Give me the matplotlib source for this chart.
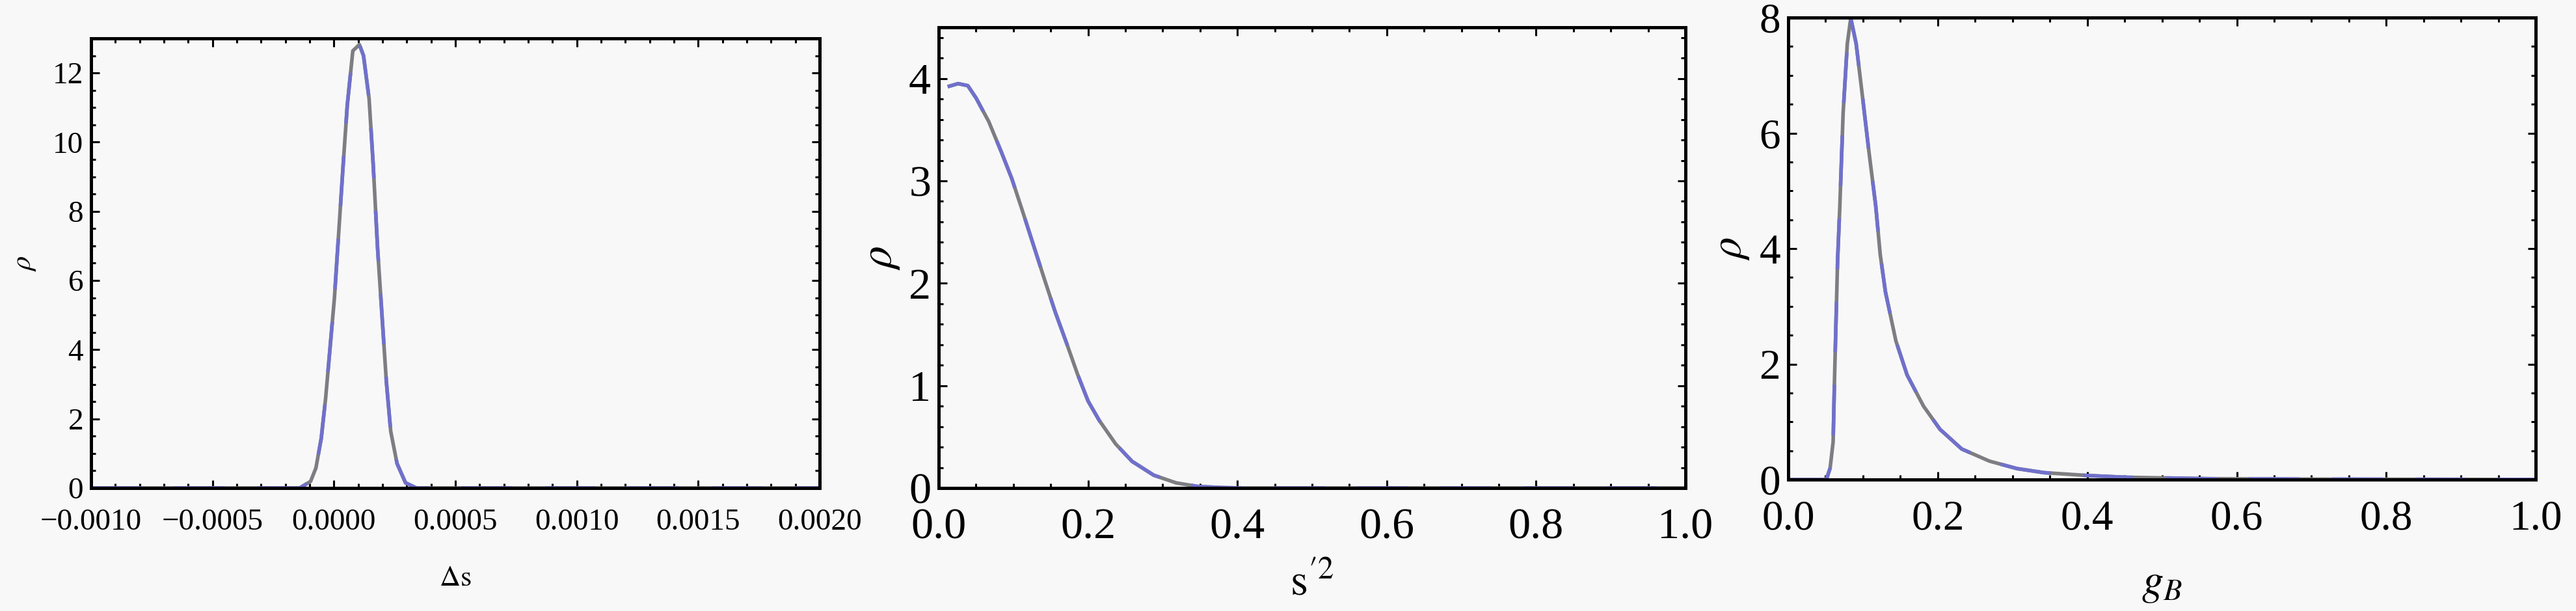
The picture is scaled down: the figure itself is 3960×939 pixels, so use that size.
"""Three density panels: rho vs delta s, s'^2 and g_B"""
import matplotlib
matplotlib.use('Agg')
import matplotlib.pyplot as plt
from matplotlib.ticker import MultipleLocator, FuncFormatter

plt.rcParams['font.family'] = ['Liberation Serif', 'DejaVu Serif']
plt.rcParams['mathtext.fontset'] = 'stix'

# Panel 1: rho vs delta s
ds_x = [-0.0010, -0.000141, -0.000096, -0.000074, -0.000052, -0.000034, -0.000016,
        0.000002, 0.000020, 0.000038, 0.000055, 0.000078, 0.000105, 0.000122,
        0.000145, 0.000162, 0.000180, 0.000198, 0.000216, 0.000234, 0.000260,
        0.000295, 0.000340, 0.0020]
ds_rho = [0, 0, 0.19, 0.58, 1.44, 2.60, 4.04, 5.48, 7.40, 9.33, 11.06, 12.64, 12.82,
          12.50, 11.25, 9.33, 6.92, 5.00, 3.08, 1.64, 0.71, 0.15, 0, 0]

# Panel 2: rho vs s'^2
s2_x = [0.012, 0.026, 0.039, 0.050, 0.067, 0.084, 0.098, 0.112, 0.127, 0.142, 0.156,
        0.171, 0.186, 0.200, 0.215, 0.237, 0.259, 0.288, 0.318, 0.347, 0.380, 0.406, 1.0]
s2_rho = [3.92, 3.95, 3.93, 3.81, 3.58, 3.28, 3.02, 2.71, 2.37, 2.03, 1.72, 1.42, 1.11,
          0.85, 0.66, 0.43, 0.26, 0.125, 0.05, 0.015, 0.004, 0, 0]

# Panel 3: rho vs g_B
gb_x = [0.0, 0.051, 0.056, 0.060, 0.062, 0.066, 0.069, 0.0734, 0.079, 0.0836, 0.0908,
        0.0995, 0.108, 0.117, 0.123, 0.130, 0.144, 0.159, 0.181, 0.203, 0.232, 0.269,
        0.306, 0.342, 0.401, 0.452, 0.562, 0.709, 1.0]
gb_rho = [0, 0, 0.2, 0.65, 1.8, 3.8, 4.74, 6.35, 7.55, 7.99, 7.55, 6.61, 5.67, 4.74,
          3.9, 3.25, 2.4, 1.81, 1.27, 0.87, 0.53, 0.32, 0.19, 0.12, 0.07, 0.04, 0.015,
          0.007, 0.002]

BG = '#f8f8f8'
GRAY = '#7d7d82'
BLUE = '#7070cc'


def minus(s):
    return s.replace('-', '\u2212')


def setup_axes(ax, xlim, ylim, xmaj, xmin, ymaj, ymin, xfmt, yfmt, fs, xpad,
               xlabel, ylabel, label_fs, xlab_y, ylab_x):
    ax.set_facecolor(BG)
    ax.set_xlim(*xlim)
    ax.set_ylim(*ylim)
    ax.xaxis.set_major_locator(MultipleLocator(xmaj))
    ax.xaxis.set_minor_locator(MultipleLocator(xmin))
    ax.yaxis.set_major_locator(MultipleLocator(ymaj))
    ax.yaxis.set_minor_locator(MultipleLocator(ymin))
    ax.xaxis.set_major_formatter(FuncFormatter(xfmt))
    ax.yaxis.set_major_formatter(FuncFormatter(yfmt))
    ax.tick_params(which='both', direction='in', top=True, right=True, width=2.2,
                   color='black')
    ax.tick_params(which='major', length=9)
    ax.tick_params(which='minor', length=5)
    ax.tick_params(axis='x', which='major', labelsize=fs, pad=xpad)
    ax.tick_params(axis='y', which='major', labelsize=fs, pad=8.5)
    for sp in ax.spines.values():
        sp.set_linewidth(3.6)
    ax.set_xlabel(xlabel, fontsize=label_fs)
    ax.set_ylabel(ylabel, fontsize=label_fs)
    ax.xaxis.label.set_va('center')
    ax.yaxis.label.set_va('center')
    ax.xaxis.set_label_coords(0.5, xlab_y)
    ax.yaxis.set_label_coords(ylab_x, 0.5)


def draw_curve(ax, x, y):
    # two overlaid curves, gray below and blue dashed on top
    ax.plot(x, y, color=GRAY, lw=4, solid_capstyle='butt')
    ax.plot(x, y, color=BLUE, lw=4, dashes=(14, 9))


fig = plt.figure(figsize=(39.6, 9.39), dpi=100, facecolor=BG)

ax1 = fig.add_axes([0.03535, 0.2013, 0.2828, 0.7359])
ax2 = fig.add_axes([0.3644, 0.2013, 0.2899, 0.7540])
ax3 = fig.add_axes([0.6942, 0.2151, 0.2902, 0.7561])

draw_curve(ax1, ds_x, ds_rho)
draw_curve(ax2, s2_x, s2_rho)
draw_curve(ax3, gb_x, gb_rho)

int_fmt = lambda v, p: f'{v:.0f}'
one_dec = lambda v, p: f'{v:.1f}'
four_dec = lambda v, p: minus(f'{v:.4f}') if abs(v) > 1e-9 else '0.0000'

setup_axes(ax1, (-0.001, 0.002), (0, 13), 0.0005, 0.0001, 2, 0.5, four_dec, int_fmt,
           34, 23, r'$\Delta\mathrm{s}$', r'$\rho$', 32, -0.201, -0.091)
setup_axes(ax2, (0, 1), (0, 4.5), 0.2, 0.05, 1, 0.2, one_dec, int_fmt,
           49, 22, r"$\mathrm{s}^{\prime 2}$", r'$\rho$', 50, -0.209, -0.0775)
setup_axes(ax3, (0, 1), (0, 8), 0.2, 0.05, 2, 0.5, one_dec, int_fmt,
           47, 22, r'$g_B$', r'$\rho$', 48, -0.227, -0.0766)

fig.savefig('out.png', dpi=100, facecolor=fig.get_facecolor())
plt.close(fig)
